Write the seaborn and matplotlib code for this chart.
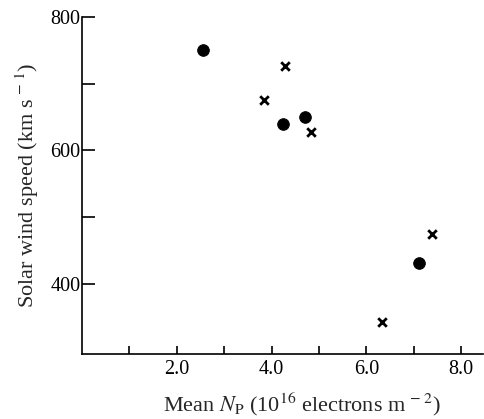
import pandas as pd
import matplotlib.pyplot as plt
import seaborn as sns

# Mean electron content vs solar wind speed
circle_np = [2.55, 4.25, 4.7, 7.1]
circle_speed = [750, 640, 650, 431]
cross_np = [4.28, 3.84, 4.84, 6.33, 7.38]
cross_speed = [726, 675, 627, 343, 474]

df = pd.DataFrame({
    'np': circle_np + cross_np,
    'speed': circle_speed + cross_speed,
    'kind': ['dot'] * len(circle_np) + ['cross'] * len(cross_np),
})

sns.set_style('ticks')
plt.rcParams['font.family'] = ['Liberation Serif', 'DejaVu Serif']
plt.rcParams['mathtext.fontset'] = 'stix'

fig = plt.figure(figsize=(4.85, 4.19), dpi=100)
ax = fig.add_axes([0.169, 0.155, 0.826, 0.805])

# circles
sns.scatterplot(data=df[df['kind'] == 'dot'], x='np', y='speed', marker='o',
                s=70, color='black', edgecolor='black', ax=ax, legend=False)
# crosses
sns.scatterplot(data=df[df['kind'] == 'cross'], x='np', y='speed', marker='x',
                s=38, color='black', linewidth=2, ax=ax, legend=False)

ax.set_xlim(0, 8.45)
ax.set_ylim(295, 800)
ax.set_xticks(range(1, 9))
ax.set_xticklabels(['', '2.0', '', '4.0', '', '6.0', '', '8.0'])
ax.set_yticks([400, 500, 600, 700, 800])
ax.set_yticklabels(['400', '', '600', '', '800'])
ax.tick_params(direction='in', length=6, width=1.2, labelsize=14.5, colors='black', pad=2)
ax.tick_params(axis='y', length=9, pad=1)
ax.tick_params(axis='x', pad=4)

for side in ['top', 'right']:
    ax.spines[side].set_visible(False)
for side in ['left', 'bottom']:
    ax.spines[side].set_linewidth(1.2)
    ax.spines[side].set_color('black')

ax.set_xlabel(r'Mean $N_{\mathrm{P}}$ (10$^{16}$ electrons m$^{\,-\,2}$)', fontsize=16)
ax.xaxis.set_label_coords(0.55, -0.11)
ax.set_ylabel(r'Solar wind speed (km s$^{\,-\,1}$)', fontsize=16, labelpad=7)

fig.savefig('out.png', dpi=100)
